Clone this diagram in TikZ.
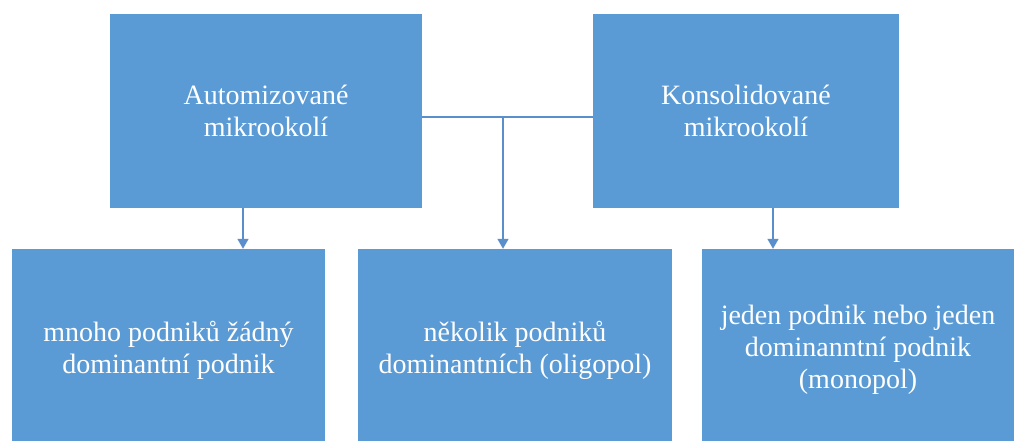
\documentclass[tikz,border=0pt]{standalone}
\usepackage{fontspec}
\setmainfont{Liberation Serif}
\newfontfamily\boxfont{Liberation Serif}
\usetikzlibrary{arrows.meta}
\definecolor{boxblue}{HTML}{5B9BD5}
\definecolor{lineblue}{HTML}{5B8FCB}
\begin{document}
\begin{tikzpicture}[x=1pt,y=-1pt,
  box/.style={fill=boxblue, draw=none, inner sep=0pt, anchor=center,
    text=white, align=center, font=\boxfont\fontsize{28}{32}\selectfont},
  conn/.style={draw=lineblue, line width=1.5pt},
  arr/.style={conn, -{Triangle[width=11pt,length=10pt]}}]
\useasboundingbox[fill=white] (0,0) rectangle (1014,441);
\node[box, minimum width=312pt, minimum height=194pt] (tl) at (266,111) {Automizované\\mikrookolí};
\node[box, minimum width=306pt, minimum height=194pt] (tr) at (746,111) {Konsolidované\\mikrookolí};
\node[box, minimum width=313pt, minimum height=202pt] (bl) at (168.5,350) {mnoho podniků žádný\\dominantní podnik};
\node[box, minimum width=314pt, minimum height=202pt] (bm) at (515,350) {několik podniků\\dominantních (oligopol)};
\node[box, minimum width=312pt, minimum height=202pt] (br) at (858,350) {jeden podnik nebo jeden\\dominanntní podnik\\(monopol)};
\coordinate (j) at (503,117);
\coordinate (a1) at (243,208);
\coordinate (a3) at (773,208);
\draw[conn] (tl.east |- j) -- (tr.west |- j);
\draw[arr] (j) -- (j |- bm.north);
\draw[arr] (tl.south -| a1) -- (a1 |- bl.north);
\draw[arr] (tr.south -| a3) -- (a3 |- br.north);
\end{tikzpicture}
\end{document}
